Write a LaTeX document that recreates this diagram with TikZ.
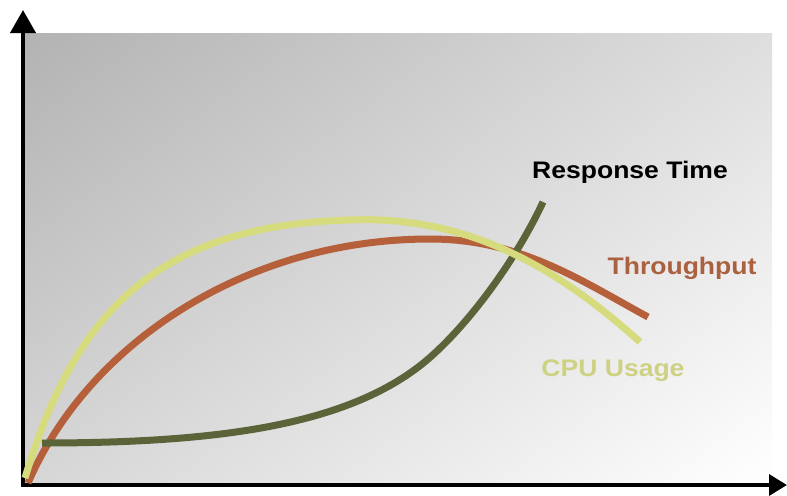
\documentclass[tikz,border=0pt]{standalone}
\usepackage{fontspec}
\setmainfont{Liberation Sans}
\usetikzlibrary{arrows.meta, shadings}
\definecolor{cpucol}{HTML}{D6DB7E}
\definecolor{cputxt}{HTML}{CDD283}
\definecolor{thrcol}{HTML}{B5603A}
\definecolor{thrtxt}{HTML}{A9613F}
\definecolor{rescol}{HTML}{5B6439}
\tikzstyle{axis} = [line width=0.1cm,{Triangle[length=0.575cm,width=0.625cm]}-{Triangle[length=0.45cm,width=0.52cm]}]

\begin{document}
\begin{tikzpicture}
        [
            x=0.025cm, y=-0.025cm,
            curve/.style={line width=0.175cm},
            lbl/.style={anchor=base, inner sep=0pt, font=\fontsize{17}{20}\selectfont\bfseries},
        ]
    \useasboundingbox (0,0) rectangle (787,495);
    % background
    \shade[upper left=black!30, upper right=black!13, lower left=black!16, lower right=white]
        (25,33) rectangle (772,484);
    \draw[axis] (23,10) |- (787,485);

    % curves
    \draw[curve, thrcol] (28,483) .. controls (90,340) and (250,239) .. (430,239)
        .. controls (520,239) and (580,280) .. (648,317);
    \draw[curve, rescol] (42,443) .. controls (220,443) and (350,425) .. (427,360)
        .. controls (467,326) and (515,262) .. (543,202);
    \draw[curve, cpucol] (25,478) .. controls (75,310) and (160,225) .. (350,220)
        .. controls (470,215) and (560,270) .. (640,342);

    % labels
    \node[lbl] (restime) at (630,178) {\scalebox{1.11}[1]{Response Time}};
    \node[lbl, text=thrtxt] (thruput) at (682,274) {\scalebox{1.11}[1]{Throughput}};
    \node[lbl, text=cputxt] (cpuuse) at (613,376) {\scalebox{1.11}[1]{CPU Usage}};
\end{tikzpicture}
\end{document}
